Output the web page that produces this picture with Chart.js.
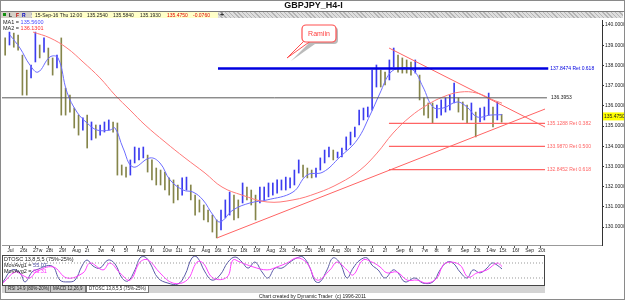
<!DOCTYPE html>
<html>
<head>
<meta charset="utf-8">
<script src="https://cdn.jsdelivr.net/npm/chart.js@4.4.0/dist/chart.umd.min.js"></script>
<style>
  body { margin: 0; background: #fff; font-family: "Liberation Sans", Arial, sans-serif; }
  #wrap { position: relative; width: 625px; height: 300px; overflow: hidden; background: #fff; }
  #wrap canvas { position: absolute; left: 0; }
  .abs { position: absolute; white-space: pre; }
  #frame { left: 0; top: 0; width: 623px; height: 298px; border: 1px solid #8a8a8a; }
  #title { left: 0; top: 0; width: 627px; text-align: center; font: bold 9px "Liberation Sans", Arial, sans-serif; line-height: 11px; color: #111; }
  #hline { left: 1px; top: 11px; width: 623px; height: 1px; background: #7a7a7a; }
  #hatch { left: 1px; top: 12px; width: 622px; height: 6px;
    background: repeating-linear-gradient(45deg, #b4b4b4 0 1px, #dedede 1px 3px); }
  #icons { left: 1px; top: 12px; width: 30px; height: 6px; background: #d4d0c8; font: bold 5px "Liberation Sans", Arial, sans-serif; line-height: 6px; }
  #info { left: 32px; top: 12px; width: 186px; height: 6px; background: #ffffc8; font: 5px "Liberation Sans", Arial, sans-serif; line-height: 6px; color: #222; }
  .small { font: 5.5px "Liberation Sans", Arial, sans-serif; line-height: 6px; color: #222; }
  #tabs { left: 2px; top: 286px; width: 543px; height: 7px; background: #d4d4d4; }
  .tab { position: absolute; top: 0; height: 6px; border: 1px solid #777; border-top: none; font: 4.5px "Liberation Sans", Arial, sans-serif; line-height: 6px; padding: 0 2px; background: #c8c8c8; color: #222; }
  #footer { left: 0; top: 293px; width: 625px; text-align: center; font: 5px "Liberation Sans", Arial, sans-serif; line-height: 6px; color: #222; }
</style>
</head>
<body>
<div id="wrap">
  <canvas id="priceChart" width="625" height="255" style="top:0"></canvas>
  <canvas id="oscChart" width="625" height="33" style="top:254px"></canvas>

  <div class="abs" id="frame"></div>
  <div class="abs" id="title">GBPJPY_H4-I</div>
  <div class="abs" id="hline"></div>
  <div class="abs" id="hatch"></div>
  <div class="abs" id="icons"><span style="position:absolute;left:2px;top:1px;width:3px;height:3px;background:#109010"></span><span style="position:absolute;left:8px">L</span><span style="position:absolute;left:15px;color:#c00000">F</span><span style="position:absolute;left:21px;color:#0000c0">R</span></div>
  <div class="abs" id="info"><span class="abs" style="left:3px">15-Sep-16 Thu 12:00</span><span class="abs" style="left:55px">135.2540</span><span class="abs" style="left:81px">135.5840</span><span class="abs" style="left:108px">135.1930</span><span class="abs" style="left:135px;color:#e00000">135.4750</span><span class="abs" style="left:161px;color:#e00000">-0.0760</span></div>
  <div class="abs" style="left:220px;top:11px;font:bold 7px 'Liberation Sans',Arial,sans-serif;line-height:7px;color:#333">+</div>

  <div class="abs small" style="left:3px;top:19px">MA1 = <span style="color:#4a4aff">135.5600</span></div>
  <div class="abs small" style="left:3px;top:25px">MA2 = <span style="color:#ff3030">136.1301</span></div>

  <svg class="abs" style="left:0;top:0" width="625" height="70">
    <polygon points="306,42 313,42 289,59" fill="#bbb" transform="translate(2,2)"/>
    <rect x="302" y="25" width="34" height="17" rx="4" fill="#bbb" transform="translate(2,2)"/>
    <polygon points="305,40 312,40 287,58" fill="#fff" stroke="#ff5050" stroke-width="1"/>
    <rect x="302" y="25" width="34" height="17" rx="4" fill="#fff" stroke="#ff5050" stroke-width="1.2"/>
    <rect x="305" y="38" width="8" height="3" fill="#fff"/>
    <text x="319" y="36" text-anchor="middle" font-family="Liberation Sans, Arial, sans-serif" font-size="7" fill="#ff4040">Ramiin</text>
  </svg>

  <div class="abs small" style="left:4px;top:256px">DTOSC 13,8,5,5 (75%-25%)</div>
  <div class="abs small" style="left:4px;top:262px">MovAvg1 = <span style="color:#4a4aa0">55.07</span></div>
  <div class="abs small" style="left:4px;top:268px">MovAvg2 = <span style="color:#ff30ff">63.31</span></div>

  <div class="abs" id="tabs">
    <span class="tab" style="left:3px">RSI 14.9 (80%-20%)</span>
    <span class="tab" style="left:48px">MACD 12,26,9</span>
    <span class="tab" style="left:84px;background:#fff">DTOSC 13,8,5,5 (75%-25%)</span>
  </div>
  <div class="abs" id="footer">Chart created by Dynamic Trader  (c) 1996-2011</div>
</div>

<script>
// === data ===
const dateLabels = ['Jul', '26t', '27w', '28t', '29f', 'Aug', '2t', '3w', '4t', '5f',
  'Aug', '9t', '10w', '11t', '12f', 'Aug', '16t', '17w', '18t', '19f',
  'Aug', '23t', '24w', '25t', '26f', 'Aug', '30t', '31w', '1t', '2f',
  'Sep', '6t', '7w', '8t', '9f', 'Sep', '13t', '14w', '15t', '16f', 'Sep', '20t'];
const priceTicks = [130, 131, 132, 133, 134, 135, 136, 137, 138, 139, 140];

// 8-hour bars, three per trading day, first bar Jul 25
const barHigh = [139.36, 139.65, 139.60, 139.50, 138.51, 137.77, 138.02, 139.65, 139.01, 139.36,
  138.86, 138.37, 138.51, 139.36, 136.88, 136.53, 135.89, 135.54, 135.40, 135.54,
  135.20, 135.05, 135.05, 135.20, 135.30, 135.20, 135.15, 133.07, 132.97, 133.32,
  133.96, 133.91, 133.96, 133.56, 133.32, 132.92, 132.82, 132.72, 132.43, 132.33,
  132.08, 132.43, 132.47, 132.08, 131.58, 131.34, 131.09, 130.84, 130.59, 130.35,
  130.84, 131.34, 131.73, 131.58, 131.34, 132.18, 131.98, 131.83, 131.58, 131.98,
  131.98, 132.18, 132.18, 132.33, 132.33, 132.47, 132.43, 132.82, 133.32, 133.07,
  132.92, 132.82, 132.92, 133.42, 133.81, 133.96, 133.81, 133.71, 133.91, 134.46,
  134.70, 134.95, 135.79, 135.89, 135.94, 137.77, 138.02, 137.77, 137.67, 138.27,
  138.86, 138.51, 138.37, 138.27, 138.17, 138.27, 137.52, 136.39, 136.14, 136.14,
  136.04, 136.29, 136.39, 136.53, 137.13, 136.39, 136.19, 136.04, 136.14, 135.69,
  135.89, 135.94, 136.63, 135.94, 136.19, 135.58];
const barLow = [138.51, 139.01, 138.90, 138.76, 136.53, 136.53, 137.38, 138.17, 138.37, 138.66,
  138.02, 137.52, 137.87, 135.54, 135.54, 135.69, 134.90, 134.55, 134.80, 133.91,
  134.31, 134.40, 134.55, 134.70, 134.80, 134.70, 132.57, 132.57, 132.47, 132.57,
  133.17, 133.32, 133.42, 132.72, 132.33, 132.08, 132.08, 131.83, 131.58, 131.19,
  131.34, 131.58, 131.83, 131.34, 130.59, 130.74, 130.35, 130.25, 129.75, 129.46,
  129.85, 130.45, 130.59, 130.35, 130.45, 131.19, 131.34, 131.09, 130.35, 131.19,
  131.34, 131.49, 131.58, 131.68, 131.83, 131.83, 131.93, 132.08, 132.67, 132.47,
  132.43, 132.43, 132.47, 132.82, 133.17, 133.47, 133.32, 133.42, 133.47, 133.81,
  134.06, 134.46, 135.05, 135.30, 135.45, 135.79, 136.93, 136.93, 137.03, 137.28,
  137.92, 137.67, 137.62, 137.62, 137.52, 137.62, 136.29, 135.54, 135.40, 135.15,
  135.40, 135.54, 135.69, 135.79, 136.14, 135.69, 135.30, 135.15, 135.30, 134.46,
  135.20, 135.30, 135.54, 134.95, 135.30, 135.19];
const lastClose = 135.4750;

const ma1Day = [0.54, 1.31, 2.08, 2.70, 3.63, 4.25, 4.94, 5.71, 6.49, 7.26, 8.26, 8.65, 9.27, 10.04,
  11.35, 12.12, 12.90, 13.90, 14.67, 15.44, 16.22, 16.76, 17.76, 19.07, 20.39, 22.39, 23.47, 24.71,
  26.02, 27.34, 28.34, 29.11, 29.88, 30.66, 31.66, 32.43, 33.20, 33.98, 35.06, 35.83, 36.60, 37.61, 38.53];
const ma1Val = [139.50, 138.86, 138.02, 137.67, 138.42, 138.37, 136.68, 135.69, 135.15, 134.80, 134.80, 134.90, 133.91, 132.97,
  133.42, 133.17, 132.33, 131.83, 131.73, 131.34, 130.59, 130.25, 130.84, 131.19, 131.34, 131.73, 132.57, 132.72,
  133.47, 134.31, 135.54, 136.63, 137.62, 137.87, 137.77, 136.93, 135.94, 135.89, 136.19, 135.94, 135.45, 135.54, 135.56];
const ma2Day = [2.32, 3.63, 4.94, 6.18, 7.49, 8.65, 9.81, 10.97, 12.51, 14.05, 15.60, 16.91, 18.46, 20.39,
  22.39, 24.25, 26.02, 27.57, 28.88, 30.12, 31.43, 32.74, 33.98, 35.29, 36.60, 37.84, 38.53];
const ma2Val = [139.65, 139.36, 138.86, 138.17, 137.38, 136.53, 135.79, 135.05, 134.21, 133.42, 132.67, 131.98, 131.58, 131.24,
  131.34, 131.68, 132.18, 132.82, 133.66, 134.65, 135.45, 136.04, 136.44, 136.68, 136.63, 136.29, 136.13];

const retPrice = [137.8474, 136.3953, 135.1288, 133.9870, 132.8452];
const retName = ['Ret 0.618', '', 'Ret 0.382', 'Ret 0.500', 'Ret 0.618'];
const retFrom = [16.6, -0.08, 29.8, 29.8, 29.8];
const retTo = [42.1, 42.0, 41.85, 41.85, 41.85];

const trendDay = [[16.53, 41.85], [29.81, 41.85]];
const trendPrice = [[129.46, 135.84], [138.86, 134.95]];

const oscDay1 = [0, 0.69, 1.31, 1.70, 2.24, 2.55, 3.78, 4.40, 5.02, 5.56, 6.10, 6.49, 6.95, 7.49, 8.11, 8.65,
  9.19, 9.65, 10.19, 10.58, 10.97, 11.35, 11.97, 12.74, 13.51, 14.05, 14.59, 14.98, 15.60, 16.14, 16.76,
  17.37, 17.92, 18.46, 18.92, 19.46, 20.00, 20.46, 21.00, 21.54, 22.16, 22.70, 23.17, 23.71, 24.09, 24.48,
  25.02, 25.48, 26.02, 26.56, 27.03, 27.57, 28.11, 28.49, 28.96, 29.50, 30.12, 30.50, 31.04, 31.81, 32.43,
  33.20, 33.75, 34.29, 34.75, 35.29, 35.83, 36.29, 36.83, 37.37, 37.76, 38.15, 38.53];
const oscVal1 = [12, 52, 42, 12, 45, 52, 65, 18, 12, 18, 65, 85, 65, 58, 85, 72,
  25, 15, 52, 92, 95, 75, 25, 8, 5, 35, 92, 95, 45, 18, 35,
  78, 95, 78, 58, 78, 45, 25, 58, 58, 78, 92, 95, 58, 15, 12,
  52, 92, 75, 25, 58, 85, 92, 68, 52, 25, 52, 42, 12, 25, 8,
  12, 52, 78, 75, 45, 25, 52, 42, 58, 75, 68, 55.07];
const oscDay2 = [0, 0.93, 1.47, 2.08, 2.55, 3.86, 4.94, 6.18, 6.72, 7.72, 8.26, 9.03, 9.81, 10.58, 11.20,
  12.12, 13.13, 14.21, 14.98, 15.44, 16.22, 17.30, 17.76, 18.30, 19.31, 20.39, 21.16, 21.93, 22.70, 23.47,
  24.25, 25.25, 25.79, 26.56, 27.03, 27.80, 28.49, 29.11, 29.65, 30.42, 31.20, 31.97, 32.74, 33.51, 33.98,
  34.52, 35.29, 35.91, 36.60, 37.37, 38.15, 38.53];
const oscVal2 = [8, 45, 35, 25, 45, 62, 25, 42, 75, 52, 75, 42, 18, 78, 85,
  42, 8, 18, 78, 75, 25, 28, 85, 78, 62, 52, 62, 75, 92, 75,
  18, 52, 78, 52, 35, 85, 78, 62, 42, 45, 18, 18, 8, 25, 68,
  78, 68, 28, 42, 52, 75, 63.31];
const oscLevels = [75, 25];

// === styles ===
const UP = '#3c3cf0', DOWN = '#85854a';
const retColor = ['#0000e0', '#5a5a5a', '#ff6464', '#ff6464', '#ff6464'];
const retWidth = [2.5, 1, 1.3, 1.3, 1.3];
const FONT = { family: 'Liberation Sans, Arial, sans-serif', size: 5 };

const bars = barHigh.map((h, i) => ({ x: (i + 0.5) / 3, y: [barLow[i], h] }));
const barColors = barHigh.map((h, i) => {
  if (i === 0) return DOWN;
  return (h + barLow[i]) >= (barHigh[i - 1] + barLow[i - 1]) ? UP : DOWN;
});

const lineSet = (data, color, width, extra) => Object.assign({
  type: 'line', data, borderColor: color, borderWidth: width,
  pointRadius: 0, fill: false, order: 1
}, extra || {});

const datasets = [{
  type: 'bar', data: bars, backgroundColor: barColors,
  barThickness: 1, order: 5
}];
datasets.push(lineSet(ma2Day.map((d, i) => ({ x: d, y: ma2Val[i] })), '#ff7878', 1, { tension: 0.4 }));
datasets.push(lineSet(ma1Day.map((d, i) => ({ x: d, y: ma1Val[i] })), '#6c6cff', 1, { tension: 0.4 }));
trendDay.forEach((t, k) => {
  datasets.push(lineSet([{ x: t[0], y: trendPrice[k][0] }, { x: t[1], y: trendPrice[k][1] }], '#ff6464', 1));
});
retPrice.forEach((p, k) => {
  datasets.push(lineSet([{ x: retFrom[k], y: p }, { x: retTo[k], y: p }], retColor[k], retWidth[k], { order: 0 }));
});

// level labels and the last price marker on the axis
const priceLabels = {
  id: 'priceLabels',
  afterDatasetsDraw(chart) {
    const { ctx, scales: { x, y }, chartArea } = chart;
    ctx.save();
    ctx.font = '5px Liberation Sans, Arial, sans-serif';
    ctx.textBaseline = 'middle';
    retPrice.forEach((p, k) => {
      ctx.fillStyle = k === 1 ? '#222' : retColor[k];
      const txt = retName[k] ? p.toFixed(4) + ' ' + retName[k] : p.toFixed(4);
      ctx.fillText(txt, x.getPixelForValue(retTo[k]) + (k === 1 ? 4 : 2), y.getPixelForValue(p));
    });
    const yc = y.getPixelForValue(lastClose);
    ctx.fillStyle = '#ffff00';
    ctx.fillRect(chartArea.right + 1, yc - 4, 22, 8);
    ctx.fillStyle = '#222';
    ctx.fillText(lastClose.toFixed(4), chartArea.right + 2, yc);
    ctx.restore();
  }
};

new Chart(document.getElementById('priceChart'), {
  type: 'bar',
  data: { datasets },
  options: {
    responsive: false, animation: false, devicePixelRatio: 1,
    layout: { padding: { left: 2, top: 20, right: 0, bottom: 0 } },
    plugins: { legend: { display: false }, tooltip: { enabled: false } },
    scales: {
      x: {
        type: 'linear', min: -0.077, max: 46.25, offset: false,
        afterBuildTicks: s => { s.ticks = dateLabels.map((_, i) => ({ value: i })); },
        afterFit: s => { s.height = 10; },
        ticks: { callback: v => '   ' + dateLabels[v], autoSkip: false, maxRotation: 0, minRotation: 0,
          align: 'start', padding: 0, font: FONT, color: '#222' },
        grid: { drawOnChartArea: false, drawTicks: true, tickLength: 3, color: '#555' },
        border: { color: '#999', dash: [1, 1] }
      },
      y: {
        type: 'linear', position: 'right', min: 129.109, max: 140.248,
        afterBuildTicks: s => { s.ticks = priceTicks.map(v => ({ value: v })); },
        afterFit: s => { s.width = 23; },
        ticks: { callback: v => v.toFixed(4), padding: 1, font: FONT, color: '#222' },
        grid: { drawOnChartArea: false, tickLength: 2, color: '#333' },
        border: { color: '#333' }
      }
    }
  },
  plugins: [priceLabels]
});

// === oscillator panel ===
const panelFrame = {
  id: 'panelFrame',
  afterDraw(chart) {
    const { ctx, chartArea: a } = chart;
    ctx.save();
    ctx.strokeStyle = '#444';
    ctx.lineWidth = 1;
    ctx.strokeRect(a.left + 0.5, a.top + 0.5, a.right - a.left - 1, a.bottom - a.top - 1);
    ctx.restore();
  }
};

const oscSets = oscLevels.map(v => lineSet([{ x: -0.077, y: v }, { x: 41.85, y: v }], '#999', 1, { borderDash: [1, 2] }));
oscSets.push(lineSet(oscDay2.map((d, i) => ({ x: d, y: oscVal2[i] })), '#ff40ff', 1, { tension: 0.4 }));
oscSets.push(lineSet(oscDay1.map((d, i) => ({ x: d, y: oscVal1[i] })), '#5a5aa8', 1, { tension: 0.4 }));

new Chart(document.getElementById('oscChart'), {
  type: 'line',
  data: { datasets: oscSets },
  options: {
    responsive: false, animation: false, devicePixelRatio: 1,
    layout: { padding: { left: 2, top: 1, right: 80, bottom: 1 } },
    plugins: { legend: { display: false }, tooltip: { enabled: false } },
    scales: {
      x: { type: 'linear', display: false, min: -0.077, max: 41.85 },
      y: { type: 'linear', display: false, min: -1.67, max: 101.67 }
    }
  },
  plugins: [panelFrame]
});
</script>
</body>
</html>
